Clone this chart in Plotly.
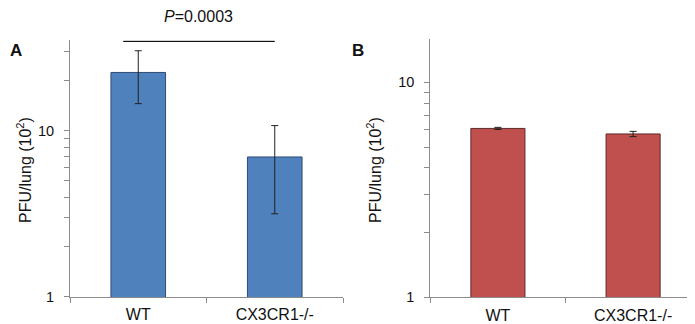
import math
import plotly.graph_objects as go

categories = ["WT", "CX3CR1-/-"]
values_a = [22.5, 6.97]
errors_a = [7.9, 3.8]
values_b = [6.1, 5.75]
errors_b = [0.07, 0.16]
major_ticks = [1, 10]
major_text = ["1", "10"]
minor_ticks_a = [2, 3, 4, 5, 6, 7, 8, 9, 20, 30]
minor_ticks_b = [2, 3, 4, 5, 6, 7, 8, 9]
y_max_a = 35.2
y_max_b = 15.9
p_text = "<i>P</i>=0.0003"
y_title = "PFU/lung (10<sup>2</sup>)"

FONT = "Arial, Liberation Sans, sans-serif"
W, H = 695, 324

fig = go.Figure()
fig.add_trace(go.Bar(
    x=categories, y=values_a, width=0.4,
    marker=dict(color="#4F81BD", line=dict(color="#2E4C74", width=1)),
    error_y=dict(type="data", array=errors_a, color="#222222", thickness=1, width=3.5),
    xaxis="x", yaxis="y", showlegend=False))
fig.add_trace(go.Bar(
    x=categories, y=values_b, width=0.4,
    marker=dict(color="#C0504D", line=dict(color="#5E2A28", width=1)),
    error_y=dict(type="data", array=errors_b, color="#222222", thickness=1, width=3.5),
    xaxis="x2", yaxis="y2", showlegend=False))

common_x = dict(type="category", showline=True, linecolor="#8C8C8C", linewidth=1,
                ticks="outside", tickson="boundaries", ticklen=5, tickcolor="#8C8C8C",
                tickfont=dict(family=FONT, size=16, color="#111111"),
                showgrid=False, zeroline=False, fixedrange=True, ticklabelstandoff=3)
common_y = dict(type="log", showline=True, linecolor="#8C8C8C", linewidth=1,
                ticks="outside", ticklen=5, tickcolor="#8C8C8C",
                tickvals=major_ticks, ticktext=major_text,
                tickfont=dict(family=FONT, size=14.5, color="#111111"),
                showgrid=False, zeroline=False, ticklabelstandoff=7)

fig.update_layout(
    width=W, height=H, margin=dict(l=0, r=0, t=0, b=0),
    paper_bgcolor="white", plot_bgcolor="white", barmode="group",
    xaxis=dict(domain=[62 / W, 335 / W], anchor="y", range=[-0.5, 1.5], **common_x),
    yaxis=dict(domain=[(H - 296.3) / H, (H - 33) / H], anchor="x",
               range=[0, math.log10(y_max_a)],
               minor=dict(tickvals=minor_ticks_a, ticks="outside", ticklen=5,
                          tickcolor="#8C8C8C", showgrid=False),
               **common_y),
    xaxis2=dict(domain=[422.3 / W, 692.7 / W], anchor="y2", range=[-0.5, 1.5], **common_x),
    yaxis2=dict(domain=[(H - 296.7) / H, (H - 31.7) / H], anchor="x2",
                range=[0, math.log10(y_max_b)],
                minor=dict(tickvals=minor_ticks_b, ticks="outside", ticklen=5,
                           tickcolor="#8C8C8C", showgrid=False),
                **common_y),
)

# significance line over panel A
fig.add_shape(type="line", xref="x", yref="y", x0=-0.11, x1=1.0, y0=34.6, y1=34.6,
              line=dict(color="#111111", width=1.3))

def ann(text, x, y, size=16, angle=0):
    return dict(text=text, x=x / W, y=1 - y / H, xref="paper", yref="paper",
                xanchor="center", yanchor="middle", textangle=angle, showarrow=False,
                font=dict(family=FONT, size=size, color="#111111"))

fig.update_layout(annotations=[
    ann(p_text, 190, 9),
    ann("<b>A</b>", 8, 44, size=17),
    ann("<b>B</b>", 350, 44, size=17),
    ann(y_title, 16, 166, angle=-90),
    ann(y_title, 366, 166, angle=-90),
])

fig.write_html("out.html")
